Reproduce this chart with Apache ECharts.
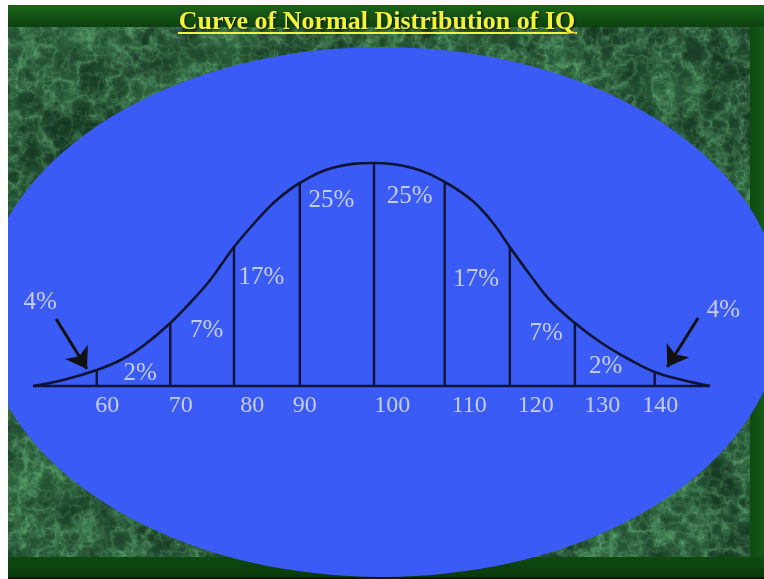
<!DOCTYPE html>
<html><head><meta charset="utf-8">
<script src="https://cdn.jsdelivr.net/npm/echarts@6/dist/echarts.min.js"></script>
<style>html,body{margin:0;padding:0;background:#fff}#c{width:764px;height:579px}</style>
</head><body><div id="c"></div>
<script>
// ---------- data ----------
const titleText = 'Curve of Normal Distribution of IQ';
const curveIQ     = [51.3, 55.6, 60.4, 64.1, 67.0, 70.9, 73.7, 76.6, 80.0, 83.3, 86.1, 89.4, 94.0, 100, 105.5, 110.1, 114.1, 117.0, 119.4, 122.3, 125.1, 128.7, 132.3, 136.1, 140.1, 144.1, 148.0];
const curveHeight = [0,    6,    16,   27,   40,   63,   83,   106,  139,  166,  186,  203,  218,  223, 218,   204,   185,   163,   139,   111,   86,    63,    44,    28,    14,    6,     0];
const boundaryIQ  = [60.4, 70.9, 80.0, 89.4, 100, 110.1, 119.4, 128.7, 140.1];
const boundaryTop = [16,   63,   139,  203,  223, 204,   139,   63,    14];
const baselineIQ  = [51.3, 148.0];
const tickLabels  = ['60', '70', '80', '90', '100', '110', '120', '130', '140'];
const tickLabelIQ = [61.9, 72.4, 82.6, 90.1, 102.6, 113.6, 123.1, 132.6, 140.9];
const pctLabels   = ['4%', '2%', '7%', '17%', '25%', '25%', '17%', '7%', '2%', '4%'];
const pctIQ       = [52.3, 66.6, 76.1, 83.9, 93.9, 105.1, 114.6, 124.6, 133.1, 149.9];
const pctHeight   = [84,   13,   56,   109,  186,  190,   107,   53,    20,    76];
const arrowFrom   = [[54.6, 67], [146.3, 68]];
const arrowTo     = [[59.0, 17], [141.9, 19]];

// ---------- background texture (deterministic) ----------
function hash(x, y) {
  let h = Math.imul(x, 374761393) + Math.imul(y, 668265263);
  h = Math.imul(h ^ (h >>> 13), 1274126177);
  h = h ^ (h >>> 16);
  return (h >>> 0) / 4294967295;
}
function vnoise(x, y) {
  const xi = Math.floor(x), yi = Math.floor(y);
  const xf = x - xi, yf = y - yi;
  const u = xf * xf * (3 - 2 * xf), v = yf * yf * (3 - 2 * yf);
  const a = hash(xi, yi), b = hash(xi + 1, yi), c = hash(xi, yi + 1), d = hash(xi + 1, yi + 1);
  return a + (b - a) * u + (c - a) * v + (a - b - c + d) * u * v;
}
function fbm(x, y) {
  let s = 0, amp = 0.5, f = 1;
  for (let i = 0; i < 4; i++) { s += amp * vnoise(x * f, y * f); amp *= 0.5; f *= 2.1; }
  return s;
}
function makeBg() {
  const W = 764, H = 579;
  const cv = document.createElement('canvas');
  cv.width = W; cv.height = H;
  const ctx = cv.getContext('2d');
  const img = ctx.createImageData(W, H);
  const d = img.data;
  for (let y = 0; y < H; y++) {
    for (let x = 0; x < W; x++) {
      const n = fbm(x / 30, y / 30);
      const r1 = 1 - Math.abs(2 * fbm(x / 18 + 7.3, y / 18 + 3.1) - 1);
      const r2 = 1 - Math.abs(2 * fbm(x / 9 + 1.7, y / 9 + 9.4) - 1);
      const vein = Math.pow(r1, 6) * 0.45 + Math.pow(r2, 8) * 0.3;
      const i = (y * W + x) * 4;
      d[i]     = 12 + n * 40 + vein * 70;
      d[i + 1] = 40 + n * 70 + vein * 105;
      d[i + 2] = 24 + n * 45 + vein * 75;
      d[i + 3] = 255;
    }
  }
  ctx.putImageData(img, 0, 0);
  // frame bands
  let g = ctx.createLinearGradient(0, 5, 0, 27);
  g.addColorStop(0, '#1b6419'); g.addColorStop(1, '#0e4110');
  ctx.fillStyle = g; ctx.fillRect(0, 5, W, 22);
  g = ctx.createLinearGradient(750, 0, 764, 0);
  g.addColorStop(0, '#0f4a10'); g.addColorStop(1, '#16591a');
  ctx.fillStyle = g; ctx.fillRect(750, 27, 14, 530);
  g = ctx.createLinearGradient(0, 557, 0, 577);
  g.addColorStop(0, '#0e4a10'); g.addColorStop(1, '#0b3a0c');
  ctx.fillStyle = g; ctx.fillRect(0, 557, W, 20);
  ctx.fillStyle = '#061806'; ctx.fillRect(0, 577, W, 2);
  ctx.fillStyle = '#ffffff'; ctx.fillRect(0, 0, W, 5);
  return cv;
}

const chart = echarts.init(document.getElementById('c'), null, { renderer: 'canvas' });
const serif = 'Liberation Serif, Times New Roman, serif';
const textCol = '#e6e9f8';
const lineCol = '#0e1431';

const option = {
  animation: false,
  backgroundColor: '#ffffff',
  title: {
    text: titleText,
    left: 372, top: 4, textAlign: 'center',
    textStyle: {
      color: '#f3f33a', fontFamily: serif, fontWeight: 'bold', fontSize: 26,
      textShadowColor: 'rgba(0,0,0,0.8)', textShadowBlur: 2, textShadowOffsetX: 1, textShadowOffsetY: 1
    }
  },
  graphic: [
    { type: 'image', z: -30, left: 0, top: 0, silent: true, style: { image: makeBg(), width: 764, height: 579 } },
    { type: 'ellipse', z: -20, silent: true, shape: { cx: 382, cy: 312, rx: 400, ry: 265 }, style: { fill: '#3a5bf6' } },
    { type: 'rect', z: -10, silent: true, shape: { x: 0, y: 0, width: 8, height: 579 }, style: { fill: '#ffffff' } },
    { type: 'line', z: 5, silent: true, shape: { x1: 178, y1: 33, x2: 577, y2: 33 }, style: { stroke: '#f3f33a', lineWidth: 2 } }
  ],
  grid: { left: 24, width: 700, top: 146, height: 280 },
  xAxis: { type: 'value', min: 50, max: 150, show: false },
  yAxis: { type: 'value', min: -40, max: 240, show: false },
  series: [
    {
      type: 'line', z: 10, data: baselineIQ.map(v => [v, 0]), symbol: 'none',
      lineStyle: { color: lineCol, width: 2.6 }
    },
    {
      type: 'custom', z: 10,
      data: boundaryIQ.map((v, i) => [v, boundaryTop[i]]),
      renderItem: (params, api) => {
        const p0 = api.coord([api.value(0), 0]);
        const p1 = api.coord([api.value(0), api.value(1)]);
        return { type: 'line', shape: { x1: p0[0], y1: p0[1], x2: p1[0], y2: p1[1] }, style: { stroke: lineCol, lineWidth: 2.4 } };
      }
    },
    {
      type: 'line', z: 11, data: curveIQ.map((v, i) => [v, curveHeight[i]]), symbol: 'none',
      smooth: 0.4,
      lineStyle: { color: lineCol, width: 2.6 }
    },
    {
      type: 'lines', coordinateSystem: 'cartesian2d', z: 12,
      data: arrowFrom.map((p, i) => ({ coords: [p, arrowTo[i]] })),
      symbol: ['none', 'arrow'], symbolSize: 20,
      lineStyle: { color: '#111111', width: 3, opacity: 1 }
    },
    {
      type: 'scatter', z: 13, clip: false, symbolSize: 1, itemStyle: { color: 'rgba(0,0,0,0)' },
      data: pctIQ.map((v, i) => ({ value: [v, pctHeight[i]], name: pctLabels[i] })),
      label: { show: true, position: 'inside', formatter: p => p.name, color: textCol, fontFamily: serif, fontSize: 25 }
    },
    {
      type: 'scatter', z: 13, clip: false, symbolSize: 1, itemStyle: { color: 'rgba(0,0,0,0)' },
      data: tickLabelIQ.map((v, i) => ({ value: [v, -20], name: tickLabels[i] })),
      label: { show: true, position: 'inside', formatter: p => p.name, color: textCol, fontFamily: serif, fontSize: 24 }
    }
  ]
};
chart.setOption(option);
</script>
</body></html>
